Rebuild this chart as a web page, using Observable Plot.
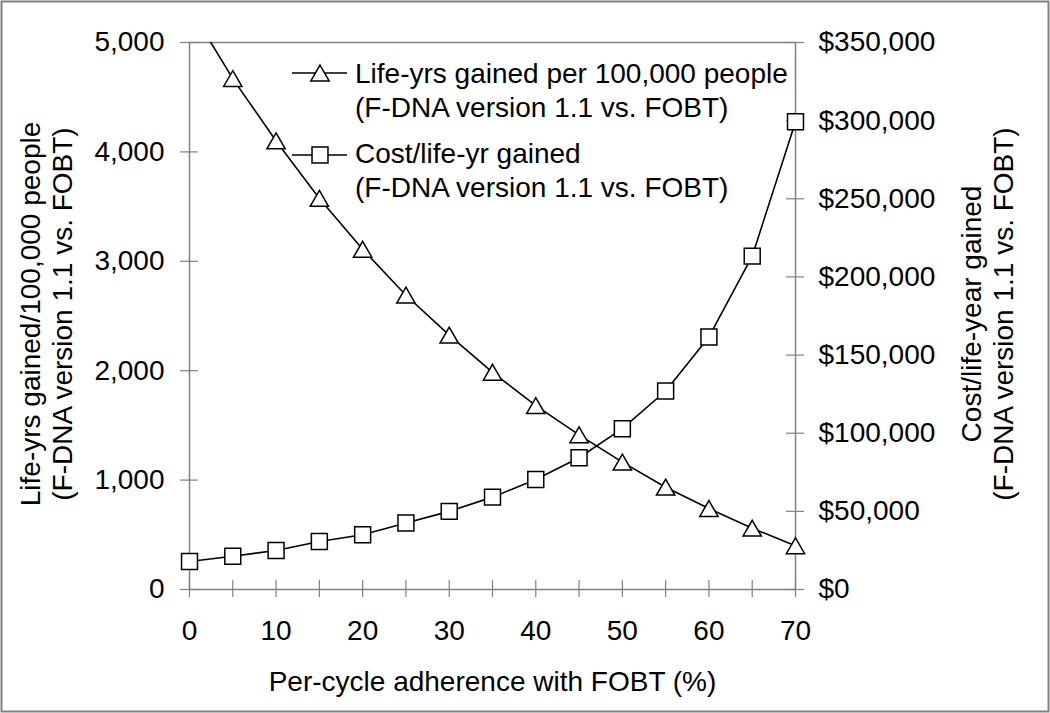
<!DOCTYPE html>
<html><head><meta charset="utf-8">
<script src="https://cdn.jsdelivr.net/npm/d3@7"></script>
<script src="https://cdn.jsdelivr.net/npm/@observablehq/plot@0.6"></script>
<style>
body{margin:0;background:#fff;}
#wrap{position:relative;width:1050px;height:713px;overflow:hidden;}
#wrap svg.overlay{position:absolute;left:0;top:0;}
</style></head><body><div id="wrap"></div>
<script>
// ---- data ----
const adherence = [0, 5, 10, 15, 20, 25, 30, 35, 40, 45, 50, 55, 60, 65, 70];
const lifeYears = [5320, 4670, 4100, 3575, 3110, 2690, 2325, 1985, 1680, 1414, 1164, 935, 740, 560, 399];
const costPerLifeYear = [17900, 21300, 25000, 30700, 35000, 42500, 50000, 59100, 70400, 84300, 102900, 127000, 161600, 213300, 299300];
const leftTicks = [0, 1000, 2000, 3000, 4000, 5000];
const rightTicks = [0, 50000, 100000, 150000, 200000, 250000, 300000, 350000];
const xTicks = [0, 10, 20, 30, 40, 50, 60, 70];
const xMinorTicks = [0, 5, 10, 15, 20, 25, 30, 35, 40, 45, 50, 55, 60, 65, 70];
const legendLabels = ["Life-yrs gained per 100,000 people\n(F-DNA version 1.1 vs. FOBT)", "Cost/life-yr gained\n(F-DNA version 1.1 vs. FOBT)"];
const leftTitle = "Life-yrs gained/100,000 people\n(F-DNA version 1.1 vs. FOBT)";
const rightTitle = "Cost/life-year gained\n(F-DNA version 1.1 vs. FOBT)";
const xTitle = "Per-cycle adherence with FOBT (%)";

// ---- layout ----
const W = 1050, H = 713, mL = 189, mR = 255, mT = 42, mB = 124;
const pw = W - mL - mR, ph = H - mT - mB;
const gray = "#808080";
const yMax = 5000;
const ratio = yMax / 350000;
const rows = adherence.map((a, i) => ({a, life: lifeYears[i], cost: costPerLifeYear[i], costScaled: costPerLifeYear[i] * ratio}));
const fontFamily = "'Liberation Sans', Arial, sans-serif";
const rTri = 6.8, rSq = 9;

const chart = Plot.plot({
  width: W, height: H, marginLeft: mL, marginRight: mR, marginTop: mT, marginBottom: mB,
  style: {fontFamily, fontSize: "28px", color: "#000", background: "#fff", overflow: "visible"},
  x: {domain: [0, 70]},
  y: {domain: [0, yMax]},
  marks: [
    Plot.frame({stroke: gray, strokeWidth: 1.5}),
    Plot.gridY(leftTicks, {stroke: gray, strokeOpacity: 1, strokeWidth: 1.2, insetLeft: -9, insetRight: pw - 9}),
    Plot.gridY(rightTicks.map(v => v * ratio), {stroke: gray, strokeOpacity: 1, strokeWidth: 1.2, insetLeft: pw - 9, insetRight: -9}),
    Plot.gridX(xMinorTicks, {stroke: gray, strokeOpacity: 1, strokeWidth: 1.2, insetTop: ph - 9, insetBottom: -8}),
    Plot.axisY(leftTicks, {anchor: "left", tickSize: 0, tickPadding: 25, tickFormat: d3.format(","), label: null}),
    Plot.axisY(rightTicks.map(v => v * ratio), {anchor: "right", tickSize: 0, tickPadding: 23, tickFormat: v => "$" + d3.format(",")(Math.round(v / ratio)), label: null}),
    Plot.axisX(xTicks, {anchor: "bottom", tickSize: 0, tickPadding: 31, label: null}),
    Plot.line(rows, {x: "a", y: "life", stroke: "#000", strokeWidth: 1.6, clip: true}),
    Plot.line(rows, {x: "a", y: "costScaled", stroke: "#000", strokeWidth: 1.6}),
    Plot.dot(rows, {filter: d => d.life <= yMax, x: "a", y: "life", symbol: "triangle", r: rTri, fill: "#fff", stroke: "#000", strokeWidth: 1.5, dy: 2.6}),
    Plot.dot(rows, {x: "a", y: "costScaled", symbol: "square", r: rSq, fill: "#fff", stroke: "#000", strokeWidth: 1.5}),
    Plot.text([leftTitle], {text: d => d, frameAnchor: "left", dx: -144, dy: -2, rotate: -90, fontSize: 28, lineHeight: 1.17, textAnchor: "middle", lineAnchor: "middle", fill: "#000"}),
    Plot.text([rightTitle], {text: d => d, frameAnchor: "right", dx: 191, dy: -2, rotate: -90, fontSize: 28, lineHeight: 1.17, textAnchor: "middle", lineAnchor: "middle", fill: "#000"}),
    Plot.text([xTitle], {text: d => d, frameAnchor: "bottom", dy: 93, fontSize: 28, textAnchor: "middle", lineAnchor: "middle", fill: "#000"})
  ]
});
const wrap = document.getElementById("wrap");
wrap.appendChild(chart);

// ---- legend + outer border overlay ----
const ov = d3.select(wrap).append("svg").attr("class", "overlay").attr("width", W).attr("height", H)
  .style("font-family", fontFamily).style("font-size", "28px");
ov.append("rect").attr("x", 1.5).attr("y", 1.5).attr("width", W - 3).attr("height", H - 3)
  .attr("fill", "none").attr("stroke", gray).attr("stroke-width", 2);
const legendItems = [
  {label: legendLabels[0], symbol: d3.symbolTriangle, r: rTri, cy: 73, ty: 73, dy: 2.6},
  {label: legendLabels[1], symbol: d3.symbolSquare, r: rSq, cy: 155, ty: 153, dy: 0}
];
legendItems.forEach(it => {
  ov.append("line").attr("x1", 292).attr("x2", 347).attr("y1", it.cy).attr("y2", it.cy)
    .attr("stroke", "#000").attr("stroke-width", 1.6);
  ov.append("path").attr("d", d3.symbol(it.symbol, Math.PI * it.r * it.r)())
    .attr("transform", `translate(320,${it.cy + it.dy})`)
    .attr("fill", "#fff").attr("stroke", "#000").attr("stroke-width", 1.5);
  const t = ov.append("text").attr("x", 355).attr("y", it.ty).attr("fill", "#000");
  it.label.split("\n").forEach((s, k) => {
    t.append("tspan").attr("x", 355).attr("y", it.ty + k * 34).attr("dy", "0.36em").text(s);
  });
});
</script>
</body></html>
